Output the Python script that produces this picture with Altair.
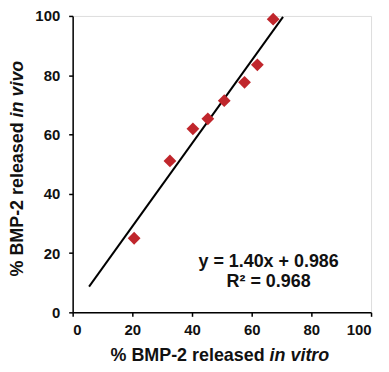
import altair as alt
import pandas as pd

in_vitro = [20.6, 32.6, 40.3, 45.3, 50.8, 57.6, 61.9, 67.2]
in_vivo = [25.0, 51.1, 61.9, 65.3, 71.4, 77.6, 83.5, 98.9]
fit_x = [5.5, 70.5]
slope = 1.40
intercept = 0.986
eq_lines = ["y = 1.40x + 0.986", "R\u00b2 = 0.968"]
ticks = [0, 20, 40, 60, 80, 100]

pts = pd.DataFrame({"x": in_vitro, "y": in_vivo})
fit = pd.DataFrame({"x": fit_x, "y": [slope * v + intercept for v in fit_x]})

FONT = "Liberation Sans"

xs = alt.Scale(domain=[0, 100], nice=False)
ys = alt.Scale(domain=[0, 100], nice=False)

xaxis = alt.Axis(values=ticks, title=None, grid=False, domainColor="black", domainWidth=1.5,
                 tickColor="black", tickWidth=1.5, tickSize=4, labelFont=FONT, labelFontSize=15,
                 labelFontWeight="bold", labelColor="#111", labelPadding=6)
yaxis = alt.Axis(values=ticks, title=None, grid=False, domainColor="black", domainWidth=1.5,
                 tickColor="black", tickWidth=1.5, tickSize=4, labelFont=FONT, labelFontSize=15,
                 labelFontWeight="bold", labelColor="#111", labelPadding=9)

line = alt.Chart(fit).mark_line(color="black", strokeWidth=2).encode(
    x=alt.X("x:Q", scale=xs, axis=xaxis),
    y=alt.Y("y:Q", scale=ys, axis=yaxis),
)

points = alt.Chart(pts).mark_point(shape="diamond", filled=True, color="#C0262C",
                                   size=165, opacity=1).encode(
    x=alt.X("x:Q", scale=xs),
    y=alt.Y("y:Q", scale=ys),
)


def label(text, x, y, align, angle=0, italic=False, dx=0, size=18):
    return alt.Chart(pd.DataFrame({"t": [text]})).mark_text(
        font=FONT, fontSize=size, fontWeight="bold", fontStyle="italic" if italic else "normal",
        color="#111", align=align, baseline="middle", angle=angle, dx=dx
    ).encode(x=alt.value(x), y=alt.value(y), text="t:N")


eq1 = label(eq_lines[0], 197, 247, "center", size=18)
eq2 = label(eq_lines[1], 197, 268, "center", size=18)

xt1 = label("% BMP-2 released", 198, 342, "right", dx=-5)
xt2 = label("in vitro", 198, 342, "left", italic=True)
yt1 = label("% BMP-2 released", -55, 102, "right", angle=270, dx=-5)
yt2 = label("in vivo", -55, 102, "left", angle=270, italic=True)

chart = alt.layer(line, points, eq1, eq2, xt1, xt2, yt1, yt2).properties(
    width=300, height=298,
    autosize=alt.AutoSizeParams(type="none"),
    padding={"left": 65, "top": 7, "right": 10, "bottom": 58},
).configure_view(stroke="#999", strokeWidth=1.5).configure(background="white")

chart.save("out.html", embed_options={"renderer": "svg", "actions": False})
